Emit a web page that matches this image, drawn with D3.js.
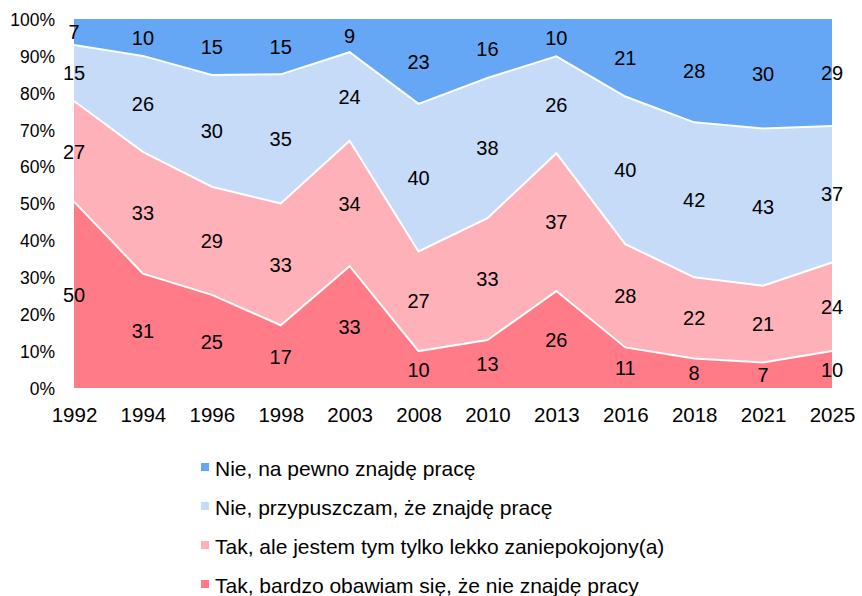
<!DOCTYPE html>
<html>
<head>
<meta charset="utf-8">
<script src="https://cdn.jsdelivr.net/npm/d3@7"></script>
<style>
  body { margin: 0; background: #fff; }
  svg text { font-family: "Liberation Sans", Arial, sans-serif; fill: #000; }
</style>
</head>
<body>
<div id="container"></div>
<script>
var years = ['1992', '1994', '1996', '1998', '2003', '2008', '2010', '2013', '2016', '2018', '2021', '2025']

var seriesNames = [
  'Tak, bardzo obawiam się, że nie znajdę pracy',
  'Tak, ale jestem tym tylko lekko zaniepokojony(a)',
  'Nie, przypuszczam, że znajdę pracę',
  'Nie, na pewno znajdę pracę'
]

var bardzo = [50, 31, 25, 17, 33, 10, 13, 26, 11, 8, 7, 10]
var lekko = [27, 33, 29, 33, 34, 27, 33, 37, 28, 22, 21, 24]
var przypuszczam = [15, 26, 30, 35, 24, 40, 38, 26, 40, 42, 43, 37]
var naPewno = [7, 10, 15, 15, 9, 23, 16, 10, 21, 28, 30, 29]

var yTicks = [0, 0.1, 0.2, 0.3, 0.4, 0.5, 0.6, 0.7, 0.8, 0.9, 1]

var colors = ['#ff7b88', '#ffb1ba', '#c6dbf8', '#66a7f5']

var W = 862, H = 596
var plotLeft = 74, plotRight = 832, plotTop = 19, plotBottom = 388

var rows = years.map(function (y, i) {
  return { year: y, s0: bardzo[i], s1: lekko[i], s2: przypuszczam[i], s3: naPewno[i] }
})
var keys = ['s0', 's1', 's2', 's3']

var stack = d3.stack().keys(keys).offset(d3.stackOffsetExpand)
var layers = stack(rows)

var x = d3.scalePoint().domain(years).range([plotLeft, plotRight]).padding(0)
var y = d3.scaleLinear().domain([0, 1]).range([plotBottom, plotTop])

var svg = d3.select('#container').append('svg')
  .attr('width', W)
  .attr('height', H)

var area = d3.area()
  .x(function (d) { return x(d.data.year) })
  .y0(function (d) { return y(d[0]) })
  .y1(function (d) { return y(d[1]) })

svg.append('g').selectAll('path')
  .data(layers)
  .enter().append('path')
  .attr('d', area)
  .attr('fill', function (d, i) { return colors[i] })

// white separators between layers
var line = d3.line()
  .x(function (d) { return x(d.data.year) })
  .y(function (d) { return y(d[1]) })

svg.append('g').selectAll('path')
  .data(layers.slice(0, 3))
  .enter().append('path')
  .attr('d', line)
  .attr('fill', 'none')
  .attr('stroke', '#fff')
  .attr('stroke-width', 2)

// data labels
var labels = svg.append('g')
layers.forEach(function (layer) {
  layer.forEach(function (d) {
    labels.append('text')
      .attr('x', x(d.data.year))
      .attr('y', y((d[0] + d[1]) / 2))
      .attr('dy', '0.36em')
      .attr('text-anchor', 'middle')
      .style('font-size', '20px')
      .text(d.data[layer.key])
  })
})

// y axis
var yAxis = svg.append('g')
  .attr('transform', 'translate(' + (plotLeft - 6) + ',0)')
  .call(d3.axisLeft(y).tickValues(yTicks).tickSize(0).tickPadding(13).tickFormat(d3.format('.0%')))
yAxis.select('.domain').remove()
yAxis.selectAll('text').style('font-size', '17.5px').attr('dy', '0.36em')

// x axis
var xAxis = svg.append('g')
  .attr('transform', 'translate(0,' + plotBottom + ')')
  .call(d3.axisBottom(x).tickSize(0).tickPadding(19))
xAxis.select('.domain').remove()
xAxis.selectAll('text').style('font-size', '20.5px')

// legend
var legend = svg.append('g').attr('transform', 'translate(201,0)')
var order = [3, 2, 1, 0]
order.forEach(function (k, i) {
  var g = legend.append('g').attr('transform', 'translate(0,' + (476 + i * 39) + ')')
  g.append('rect')
    .attr('x', 0)
    .attr('y', -13)
    .attr('width', 8)
    .attr('height', 8)
    .attr('fill', colors[k])
  g.append('text')
    .attr('x', 14)
    .attr('y', 0)
    .style('font-size', '21px')
    .text(seriesNames[k])
})
</script>
</body>
</html>
